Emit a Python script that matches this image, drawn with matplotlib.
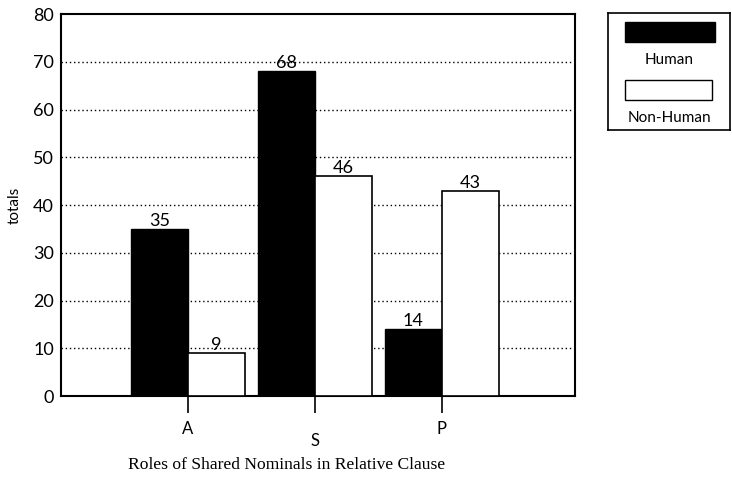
import matplotlib
matplotlib.use("Agg")
import matplotlib.pyplot as plt
import matplotlib.transforms as mtransforms
from matplotlib.patches import Rectangle
import numpy as np

categories = ["A", "S", "P"]
human = [35, 68, 14]
non_human = [9, 46, 43]
series_names = ["Human", "Non-Human"]
yticks = [0, 10, 20, 30, 40, 50, 60, 70, 80]

plt.rcParams['font.family'] = ['Lato', 'DejaVu Sans']

fig = plt.figure(figsize=(7.32, 4.78), dpi=100)
ax = fig.add_axes([0.0833, 0.1715, 0.7022, 0.7992])

x = np.arange(len(categories))
w = 0.45
b1 = ax.bar(x - w / 2, human, w, color='black', edgecolor='black', linewidth=1, zorder=3)
b2 = ax.bar(x + w / 2, non_human, w, color='white', edgecolor='black', linewidth=1.2, zorder=3)

for rects, vals in ((b1, human), (b2, non_human)):
    for r, v in zip(rects, vals):
        ax.text(r.get_x() + r.get_width() / 2, v, str(v), ha='center', va='bottom',
                fontsize=13, zorder=4)

ax.set_xlim(-1.0, 3.05)
ax.set_ylim(0, 80)
ax.set_yticks(yticks)
ax.set_yticklabels([str(t) for t in yticks], fontsize=13)
ax.tick_params(axis='y', length=0, pad=5)
ax.set_xticks(x)
ax.set_xticklabels(categories, fontsize=12)
ax.tick_params(axis='x', direction='out', length=12, width=1.2, pad=6)
lbls = ax.get_xticklabels()
lbls[1].set_transform(lbls[1].get_transform() +
                      mtransforms.ScaledTranslation(0, -12 / 100, fig.dpi_scale_trans))

for t in yticks[1:-1]:
    ax.axhline(t, color='black', linestyle=(0, (1, 2)), linewidth=1, zorder=1)

for s in ax.spines.values():
    s.set_linewidth(1.5)

ax.set_ylabel('totals', fontsize=11, labelpad=8)
fig.text(287 / 732, 1 - 465 / 478, 'Roles of Shared Nominals in Relative Clause',
         family='Liberation Serif', fontsize=12.6, ha='center', va='center')

# legend box
lax = fig.add_axes([608 / 732, 1 - 130 / 478, 122 / 732, 117 / 478])
lax.set_xlim(0, 122)
lax.set_ylim(117, 0)
lax.set_xticks([])
lax.set_yticks([])
for s in lax.spines.values():
    s.set_linewidth(1.2)
lax.add_patch(Rectangle((17, 9), 90, 20, facecolor='black', edgecolor='black'))
lax.text(61, 47, series_names[0], ha='center', va='center', fontsize=11)
lax.add_patch(Rectangle((17, 67), 87, 20, facecolor='white', edgecolor='black', linewidth=1))
lax.text(61, 105, series_names[1], ha='center', va='center', fontsize=11)

fig.savefig('out.png', dpi=100)
